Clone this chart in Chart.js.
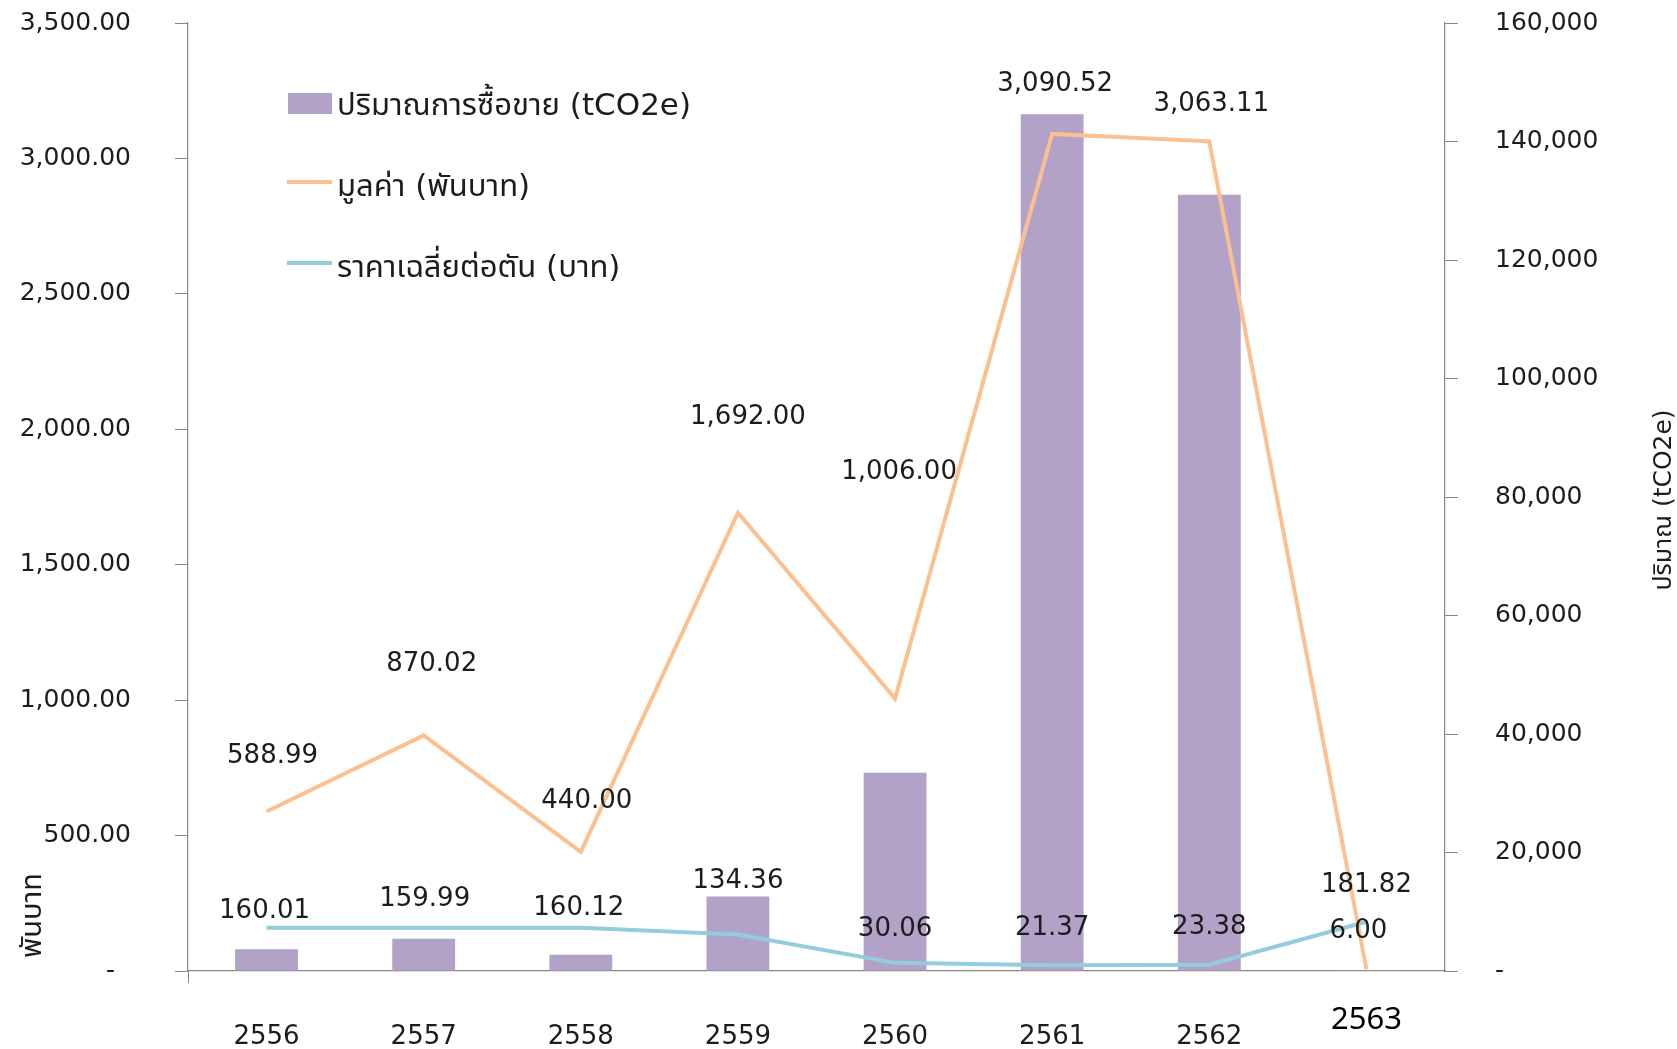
<!DOCTYPE html>
<html>
<head>
<meta charset="utf-8">
<script src="https://cdn.jsdelivr.net/npm/chart.js@4.4.1/dist/chart.umd.min.js"></script>
<style>
    html, body { margin: 0; padding: 0; background: #fff; }
    #wrap { width: 1677px; height: 1049px; position: relative; }
</style>
</head>
<body>
<div id="wrap"><canvas id="tradeChart"></canvas></div>
<script>
// ปริมาณ / มูลค่า / ราคาเฉลี่ย carbon credit trading, 2556-2563
const years = ['2556', '2557', '2558', '2559', '2560', '2561', '2562', '2563'];
const volume = [3681, 5438, 2748, 12593, 33466, 144620, 131014, 33];          // tCO2e (right axis)
const tradeValue = [588.99, 870.02, 440.00, 1692.00, 1006.00, 3090.52, 3063.11, 6.00]; // thousand baht
const avgPrice = [160.01, 159.99, 160.12, 134.36, 30.06, 21.37, 23.38, 181.82];        // baht per ton

const leftMax = 3500, leftStep = 500;
const rightMax = 160000, rightStep = 20000;

const seriesNames = ['ปริมาณการซื้อขาย (tCO2e)', 'มูลค่า (พันบาท)', 'ราคาเฉลี่ยต่อตัน (บาท)'];

const FONT = '"DejaVu Sans", "Noto Sans Thai", "Loma", "Garuda", sans-serif';
const textColor = '#1c1c1c';
const axisColor = '#868686';
const barColor = '#b3a2c7';
const orange = '#fac090';
const aqua = '#93cddd';

// label nudges relative to each point, px
const valueShift = [[6, -55], [8, -71], [6, -51], [10, -95], [4, -226], [3, -50], [2, -37], [-8, -38]];
const priceShift = [[-2, -16], [1, -28], [-2, -19], [0, -53], [0, -34], [0, -37], [0, -37], [0, -37]];

const fmt2 = v => v.toLocaleString('en-US', { minimumFractionDigits: 2, maximumFractionDigits: 2 });

// chart.js adds tick padding to the scale's top/bottom padding; drop it so the plot fills the height
const noEdgePad = s => { s.paddingTop = 0; s.paddingBottom = 0; };

const overlay = {
    id: 'overlay',
    afterDatasetsDraw(chart) {
        const ctx = chart.ctx;
        ctx.save();
        ctx.font = `26px ${FONT}`;
        ctx.fillStyle = textColor;
        ctx.textAlign = 'center';
        ctx.textBaseline = 'middle';
        [[1, valueShift], [2, priceShift]].forEach(([di, shift]) => {
            const meta = chart.getDatasetMeta(di);
            meta.data.forEach((pt, i) => {
                const v = chart.data.datasets[di].data[i];
                ctx.fillText(fmt2(v), pt.x + shift[i][0], pt.y + shift[i][1]);
            });
        });
        ctx.restore();
    },
    afterDraw(chart) {
        const ctx = chart.ctx;
        const ds = chart.data.datasets;
        ctx.save();

        // legend, top left inside the plot
        ctx.font = `31px ${FONT}`;
        ctx.textAlign = 'left';
        ctx.textBaseline = 'middle';
        ds.forEach((d, i) => {
            const y = 104 + i * 81;
            if (d.type === 'bar') {
                ctx.fillStyle = d.backgroundColor;
                ctx.fillRect(288, y - 11, 44, 21);
            } else {
                ctx.strokeStyle = d.borderColor;
                ctx.lineWidth = 4;
                ctx.beginPath();
                ctx.moveTo(287, y - 3);
                ctx.lineTo(332, y - 3);
                ctx.stroke();
            }
            ctx.fillStyle = textColor;
            ctx.fillText(d.label, 337, y + 3);
        });

        // axis titles, both reading bottom to top
        ctx.font = `29px ${FONT}`;
        ctx.save();
        ctx.translate(33, 958);
        ctx.rotate(-Math.PI / 2);
        ctx.textAlign = 'left';
        ctx.fillText('พันบาท', 0, 0);
        ctx.restore();

        ctx.font = `25px ${FONT}`;
        ctx.save();
        ctx.translate(1664, 500);
        ctx.rotate(-Math.PI / 2);
        ctx.textAlign = 'center';
        ctx.fillText('ปริมาณ (tCO2e)', 0, 0);
        ctx.restore();

        // the last year label sits apart in its own style
        const x = chart.scales.x;
        const last = years.length - 1;
        ctx.font = `31px "Noto Sans", ${FONT}`;
        ctx.fillStyle = '#000';
        ctx.textAlign = 'center';
        ctx.fillText(years[last], x.getPixelForValue(last), 1020);

        ctx.restore();
    }
};

new Chart(document.getElementById('tradeChart'), {
    data: {
        labels: years,
        datasets: [
            {
                type: 'bar',
                label: seriesNames[0],
                data: volume,
                yAxisID: 'y1',
                backgroundColor: barColor,
                barPercentage: 0.4,
                categoryPercentage: 1,
                order: 3
            },
            {
                type: 'line',
                label: seriesNames[1],
                data: tradeValue,
                yAxisID: 'y',
                borderColor: orange,
                borderWidth: 4,
                pointRadius: 0,
                tension: 0,
                order: 1
            },
            {
                type: 'line',
                label: seriesNames[2],
                data: avgPrice,
                yAxisID: 'y',
                borderColor: aqua,
                borderWidth: 4,
                pointRadius: 0,
                tension: 0,
                order: 2
            }
        ]
    },
    options: {
        responsive: true,
        maintainAspectRatio: false,
        animation: false,
        layout: { padding: { top: 23, left: 0, right: 0, bottom: 0 } },
        plugins: {
            legend: { display: false },
            tooltip: { enabled: false }
        },
        scales: {
            x: {
                offset: true,
                grid: {
                    offset: true,
                    drawOnChartArea: false,
                    tickLength: 12,
                    color: c => c.index === 0 ? axisColor : 'rgba(0,0,0,0)'
                },
                border: { color: axisColor, width: 1.2 },
                ticks: {
                    padding: 39,
                    color: textColor,
                    font: { family: FONT, size: 26 },
                    callback: (v, i) => i === years.length - 1 ? '' : years[i]
                },
                afterFit: s => { s.height = 78; s.paddingLeft = 0; s.paddingRight = 0; }
            },
            y: {
                position: 'left',
                min: 0,
                max: leftMax,
                grid: { drawOnChartArea: false, tickLength: 13, color: axisColor },
                border: { color: axisColor, width: 1.2 },
                ticks: {
                    stepSize: leftStep,
                    padding: 44,
                    color: textColor,
                    font: { family: FONT, size: 25 },
                    callback: v => v === 0 ? '-  ' : fmt2(v)
                },
                afterFit: s => { s.width = 188; noEdgePad(s); }
            },
            y1: {
                position: 'right',
                min: 0,
                max: rightMax,
                grid: { drawOnChartArea: false, tickLength: 13, color: axisColor },
                border: { color: axisColor, width: 1.2 },
                ticks: {
                    stepSize: rightStep,
                    padding: 37,
                    color: textColor,
                    font: { family: FONT, size: 25 },
                    callback: v => v === 0 ? '-' : v.toLocaleString('en-US')
                },
                afterFit: s => { s.width = 232; noEdgePad(s); }
            }
        }
    },
    plugins: [overlay]
});
</script>
</body>
</html>
